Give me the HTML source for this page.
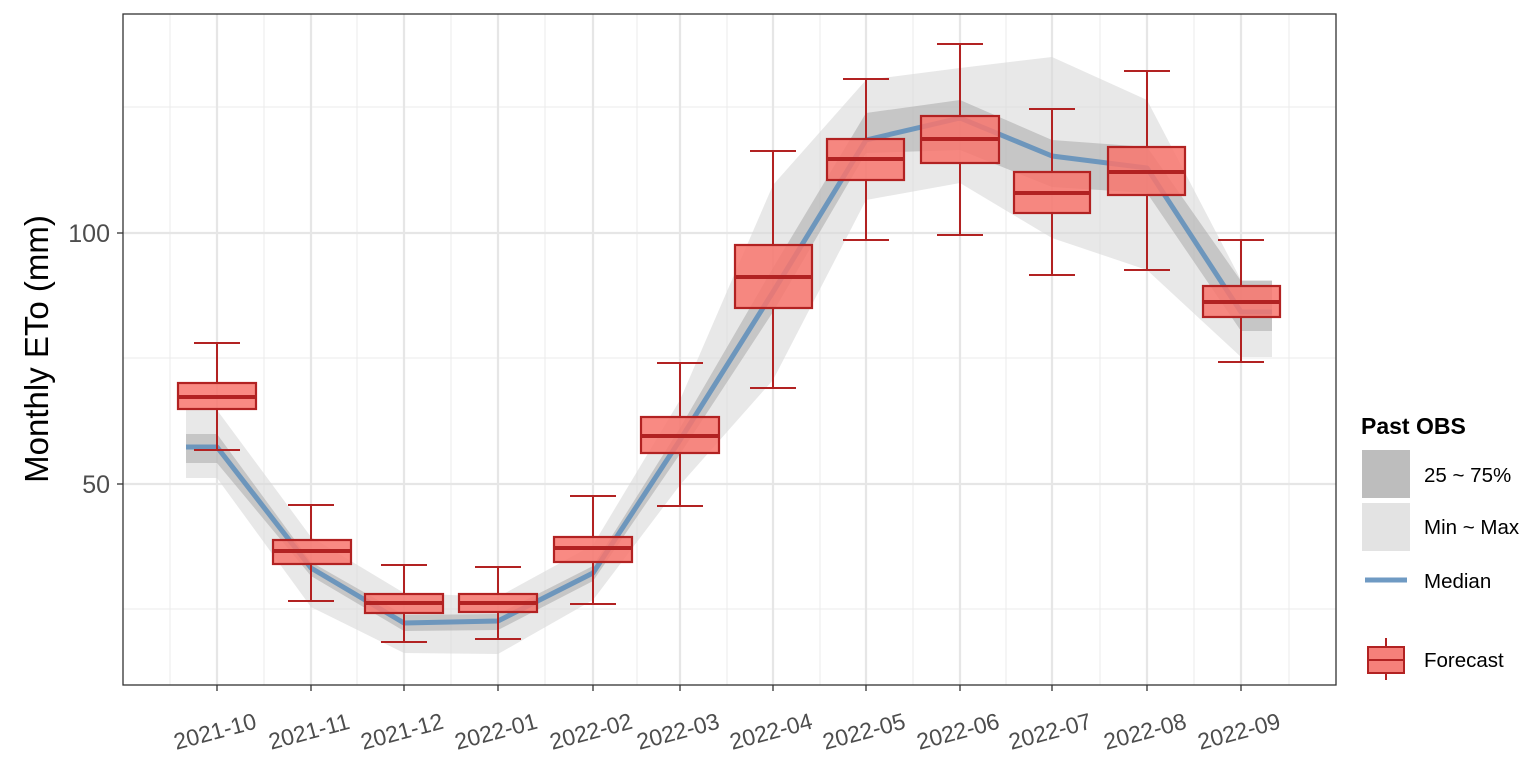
<!DOCTYPE html>
<html><head><meta charset="utf-8"><style>body{margin:0;background:#fff}svg{display:block}</style></head><body>
<svg width="1540" height="763" viewBox="0 0 1540 763" xmlns="http://www.w3.org/2000/svg" font-family="Liberation Sans, sans-serif">
<rect width="1540" height="763" fill="#fff"/>
<g stroke="#ebebeb" stroke-width="1">
<line x1="123" x2="1336" y1="107" y2="107"/><line x1="123" x2="1336" y1="358" y2="358"/><line x1="123" x2="1336" y1="609" y2="609"/>
<line x1="170" x2="170" y1="14" y2="685"/><line x1="264" x2="264" y1="14" y2="685"/><line x1="357" x2="357" y1="14" y2="685"/><line x1="451" x2="451" y1="14" y2="685"/><line x1="545" x2="545" y1="14" y2="685"/><line x1="637" x2="637" y1="14" y2="685"/><line x1="727" x2="727" y1="14" y2="685"/><line x1="820" x2="820" y1="14" y2="685"/><line x1="913" x2="913" y1="14" y2="685"/><line x1="1006" x2="1006" y1="14" y2="685"/><line x1="1100" x2="1100" y1="14" y2="685"/><line x1="1194" x2="1194" y1="14" y2="685"/><line x1="1289" x2="1289" y1="14" y2="685"/>
</g>
<g stroke="#e6e6e6" stroke-width="2.2">
<line x1="123" x2="1336" y1="233" y2="233"/><line x1="123" x2="1336" y1="484" y2="484"/>
<line x1="217" x2="217" y1="14" y2="685"/><line x1="311" x2="311" y1="14" y2="685"/><line x1="404" x2="404" y1="14" y2="685"/><line x1="498" x2="498" y1="14" y2="685"/><line x1="593" x2="593" y1="14" y2="685"/><line x1="680" x2="680" y1="14" y2="685"/><line x1="773" x2="773" y1="14" y2="685"/><line x1="866" x2="866" y1="14" y2="685"/><line x1="960" x2="960" y1="14" y2="685"/><line x1="1052" x2="1052" y1="14" y2="685"/><line x1="1147" x2="1147" y1="14" y2="685"/><line x1="1241" x2="1241" y1="14" y2="685"/>
</g>
<polygon fill="#d9d9d9" fill-opacity="0.6" points="186,410 217,410 311,537 404,593 498,597 593,545 680,400 773,185 866,80 960,68 1052,57 1147,100 1241,280 1272,280 1272,357 1241,357 1147,270 1052,238 960,183 866,200 773,380 680,485 593,600 498,654 404,653 311,607 217,478 186,478"/>
<polygon fill="#aaaaaa" fill-opacity="0.55" points="186,434 217,434 311,562 404,615 498,614 593,566 680,428 773,268 866,113 960,100 1052,140 1147,147 1241,281 1272,281 1272,331 1241,331 1147,193 1052,187 960,150 866,153 773,312 680,454 593,581 498,630 404,631 311,576 217,463 186,463"/>
<polyline fill="none" stroke="#4f86b8" stroke-opacity="0.75" stroke-width="5" stroke-linejoin="round" points="186,447 217,447 311,568 404,623 498,621 593,573 680,440 773,292 866,140 960,118 1052,156 1147,168 1241,312 1272,312"/>
<g stroke="#b22222" fill="#f8766d" fill-opacity="0.85">
<path d="M217 343V383M217 409V450M194 343H240M194 450H240" stroke-width="2"/><rect x="178" y="383" width="78" height="26" stroke-width="2.2"/><line x1="178" x2="256" y1="397" y2="397" stroke-width="4"/>
<path d="M311 505V540M311 564V601M288 505H334M288 601H334" stroke-width="2"/><rect x="273" y="540" width="78" height="24" stroke-width="2.2"/><line x1="273" x2="351" y1="551" y2="551" stroke-width="4"/>
<path d="M404 565V594M404 613V642M381 565H427M381 642H427" stroke-width="2"/><rect x="365" y="594" width="78" height="19" stroke-width="2.2"/><line x1="365" x2="443" y1="603" y2="603" stroke-width="4"/>
<path d="M498 567V594M498 612V639M475 567H521M475 639H521" stroke-width="2"/><rect x="459" y="594" width="78" height="18" stroke-width="2.2"/><line x1="459" x2="537" y1="603" y2="603" stroke-width="4"/>
<path d="M593 496V537M593 562V604M570 496H616M570 604H616" stroke-width="2"/><rect x="554" y="537" width="78" height="25" stroke-width="2.2"/><line x1="554" x2="632" y1="548" y2="548" stroke-width="4"/>
<path d="M680 363V417M680 453V506M657 363H703M657 506H703" stroke-width="2"/><rect x="641" y="417" width="78" height="36" stroke-width="2.2"/><line x1="641" x2="719" y1="436" y2="436" stroke-width="4"/>
<path d="M773 151V245M773 308V388M750 151H796M750 388H796" stroke-width="2"/><rect x="735" y="245" width="77" height="63" stroke-width="2.2"/><line x1="735" x2="812" y1="277" y2="277" stroke-width="4"/>
<path d="M866 79V139M866 180V240M843 79H889M843 240H889" stroke-width="2"/><rect x="827" y="139" width="77" height="41" stroke-width="2.2"/><line x1="827" x2="904" y1="159" y2="159" stroke-width="4"/>
<path d="M960 44V116M960 163V235M937 44H983M937 235H983" stroke-width="2"/><rect x="921" y="116" width="78" height="47" stroke-width="2.2"/><line x1="921" x2="999" y1="139" y2="139" stroke-width="4"/>
<path d="M1052 109V172M1052 213V275M1029 109H1075M1029 275H1075" stroke-width="2"/><rect x="1014" y="172" width="76" height="41" stroke-width="2.2"/><line x1="1014" x2="1090" y1="193" y2="193" stroke-width="4"/>
<path d="M1147 71V147M1147 195V270M1124 71H1170M1124 270H1170" stroke-width="2"/><rect x="1108" y="147" width="77" height="48" stroke-width="2.2"/><line x1="1108" x2="1185" y1="172" y2="172" stroke-width="4"/>
<path d="M1241 240V286M1241 317V362M1218 240H1264M1218 362H1264" stroke-width="2"/><rect x="1203" y="286" width="77" height="31" stroke-width="2.2"/><line x1="1203" x2="1280" y1="302" y2="302" stroke-width="4"/>
</g>
<rect x="123" y="14" width="1213" height="671" fill="none" stroke="#333" stroke-width="1.3"/>
<g stroke="#333" stroke-width="1.3">
<line x1="117" x2="123" y1="233" y2="233"/><line x1="117" x2="123" y1="484" y2="484"/>
<line x1="217" x2="217" y1="685" y2="691"/><line x1="311" x2="311" y1="685" y2="691"/><line x1="404" x2="404" y1="685" y2="691"/><line x1="498" x2="498" y1="685" y2="691"/><line x1="593" x2="593" y1="685" y2="691"/><line x1="680" x2="680" y1="685" y2="691"/><line x1="773" x2="773" y1="685" y2="691"/><line x1="866" x2="866" y1="685" y2="691"/><line x1="960" x2="960" y1="685" y2="691"/><line x1="1052" x2="1052" y1="685" y2="691"/><line x1="1147" x2="1147" y1="685" y2="691"/><line x1="1241" x2="1241" y1="685" y2="691"/>
</g>
<g fill="#4d4d4d" font-size="25" text-anchor="end">
<text x="110" y="242">100</text><text x="110" y="493">50</text>
</g>
<g fill="#4d4d4d" font-size="23" text-anchor="middle">
<text transform="translate(217,739) rotate(-15)">2021-10</text>
<text transform="translate(311,739) rotate(-15)">2021-11</text>
<text transform="translate(404,739) rotate(-15)">2021-12</text>
<text transform="translate(498,739) rotate(-15)">2022-01</text>
<text transform="translate(593,739) rotate(-15)">2022-02</text>
<text transform="translate(680,739) rotate(-15)">2022-03</text>
<text transform="translate(773,739) rotate(-15)">2022-04</text>
<text transform="translate(866,739) rotate(-15)">2022-05</text>
<text transform="translate(960,739) rotate(-15)">2022-06</text>
<text transform="translate(1052,739) rotate(-15)">2022-07</text>
<text transform="translate(1147,739) rotate(-15)">2022-08</text>
<text transform="translate(1241,739) rotate(-15)">2022-09</text>
</g>
<text transform="translate(48,349) rotate(-90)" font-size="33" text-anchor="middle" fill="#000">Monthly ETo (mm)</text>
<text x="1361" y="434" font-size="23" font-weight="bold">Past OBS</text>
<rect x="1362" y="450" width="48" height="48" fill="#bdbdbd"/>
<rect x="1362" y="503" width="48" height="48" fill="#e3e3e3"/>
<line x1="1365" x2="1407" y1="580" y2="580" stroke="#6f9ac3" stroke-width="5"/>
<line x1="1386" x2="1386" y1="638" y2="680" stroke="#b22222" stroke-width="2"/>
<rect x="1368" y="647" width="36" height="26" fill="#f6807a" stroke="#b22222" stroke-width="2"/>
<line x1="1368" x2="1404" y1="660" y2="660" stroke="#b22222" stroke-width="2"/>
<g font-size="20.5" fill="#000">
<text x="1424" y="482">25 ~ 75%</text><text x="1424" y="534">Min ~ Max</text><text x="1424" y="588">Median</text><text x="1424" y="667">Forecast</text>
</g>
</svg>
</body></html>
